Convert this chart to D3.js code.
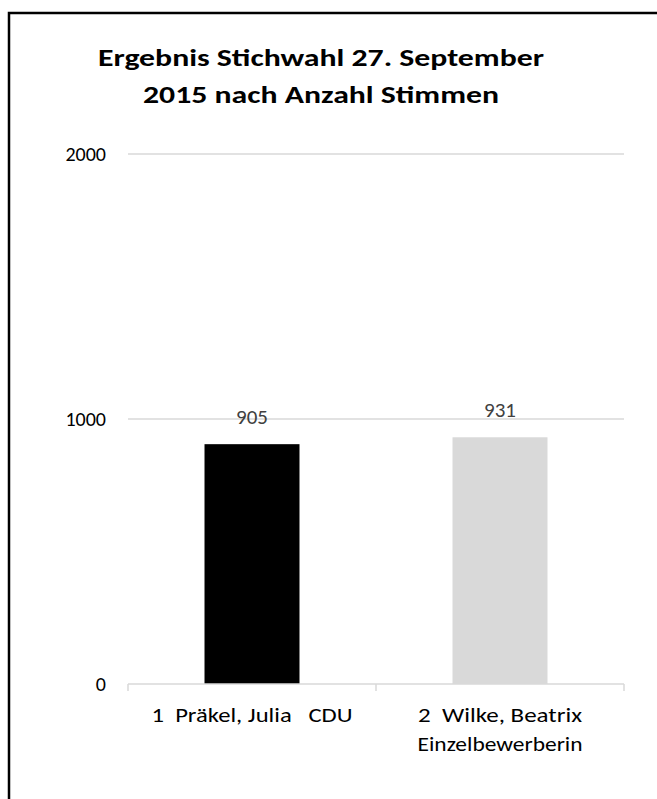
<!DOCTYPE html>
<html>
<head>
<meta charset="utf-8">
<script src="https://cdn.jsdelivr.net/npm/d3@7"></script>
<style>
  body { margin: 0; background: #fff; }
  svg text { font-family: Carlito, Calibri, Lato, "Open Sans", sans-serif; white-space: pre; }
</style>
</head>
<body>
<svg id="chart"></svg>
<script>
var categories = ["1  Präkel, Julia   CDU", "2  Wilke, Beatrix\nEinzelbewerberin"];
var votes = [905, 931];
var barColors = ["#000000", "#d9d9d9"];
var yTicks = [0, 1000, 2000];
var titleLines = ["Ergebnis Stichwahl 27. September", "2015 nach Anzahl Stimmen"];
var titleWidths = [446, 356];
var labelWidths = [[201], [164, 165]];

var W = 657, H = 799;
var margin = {top: 154, left: 128, right: 33, bottom: 115},
    width = W - margin.left - margin.right,
    height = H - margin.top - margin.bottom;

var svg = d3.select("#chart")
    .attr("width", W)
    .attr("height", H);

// outer frame (only top & left visible in the crop)
svg.append("path")
    .attr("d", "M9,799 V13 H657")
    .attr("fill", "none")
    .attr("stroke", "#000")
    .attr("stroke-width", 2.5);

svg.selectAll(".title")
    .data(titleLines)
  .enter().append("text")
    .attr("class", "title")
    .attr("x", function(d, i) { return i === 0 ? 98 : 143; })
    .attr("y", function(d, i) { return 66 + i * 37; })
    .attr("font-size", 25)
    .attr("font-weight", "bold")
    .attr("fill", "#000")
    .attr("textLength", function(d, i) { return titleWidths[i]; })
    .attr("lengthAdjust", "spacingAndGlyphs")
    .text(function(d) { return d; });

var g = svg.append("g")
    .attr("transform", "translate(" + margin.left + "," + margin.top + ")");

var x = d3.scaleBand()
    .domain(categories)
    .range([0, width])
    .paddingInner(0.617)
    .paddingOuter(0.3085);

var y = d3.scaleLinear()
    .domain([0, 2000])
    .range([height, 0]);

// gridlines
g.selectAll(".grid")
    .data(yTicks.filter(function(d) { return d > 0; }))
  .enter().append("line")
    .attr("class", "grid")
    .attr("x1", 0)
    .attr("x2", width)
    .attr("y1", function(d) { return y(d); })
    .attr("y2", function(d) { return y(d); })
    .attr("stroke", "#d9d9d9")
    .attr("stroke-width", 1.5);

// y labels
g.selectAll(".ylab")
    .data(yTicks)
  .enter().append("text")
    .attr("class", "ylab")
    .attr("x", -22)
    .attr("y", function(d) { return y(d); })
    .attr("dy", "0.36em")
    .attr("text-anchor", "end")
    .attr("font-size", 20)
    .attr("fill", "#000")
    .text(function(d) { return d; });

// bars
g.selectAll(".bar")
    .data(votes)
  .enter().append("rect")
    .attr("class", "bar")
    .attr("x", function(d, i) { return x(categories[i]); })
    .attr("width", x.bandwidth())
    .attr("y", function(d) { return y(d); })
    .attr("height", function(d) { return y(0) - y(d); })
    .attr("fill", function(d, i) { return barColors[i]; });

// value labels
g.selectAll(".val")
    .data(votes)
  .enter().append("text")
    .attr("class", "val")
    .attr("x", function(d, i) { return x(categories[i]) + x.bandwidth() / 2; })
    .attr("y", function(d) { return y(d) - 20; })
    .attr("text-anchor", "middle")
    .attr("font-size", 21)
    .attr("fill", "#404040")
    .text(function(d) { return d; });

// x axis
var xAxis = d3.axisBottom(x).tickSize(0).tickFormat("");
var axisG = g.append("g")
    .attr("transform", "translate(0," + y(0) + ")")
    .call(xAxis);
axisG.select(".domain").remove();
axisG.append("line")
    .attr("x1", 0).attr("x2", width)
    .attr("stroke", "#d9d9d9").attr("stroke-width", 1.5);
var step = x.step();
axisG.selectAll(".sep")
    .data(d3.range(categories.length + 1))
  .enter().append("line")
    .attr("class", "sep")
    .attr("x1", function(d) { return d * step; })
    .attr("x2", function(d) { return d * step; })
    .attr("y1", 0).attr("y2", 7)
    .attr("stroke", "#d9d9d9").attr("stroke-width", 1.5);

// category labels
categories.forEach(function(c, i) {
  var cx = x(c) + x.bandwidth() / 2;
  c.split("\n").forEach(function(line, j) {
    axisG.append("text")
      .attr("x", cx - labelWidths[i][j] / 2)
      .attr("y", 38 + j * 29)
      .attr("text-anchor", "start")
      .attr("font-size", 20)
      .attr("fill", "#000")
      .attr("textLength", labelWidths[i][j])
      .attr("lengthAdjust", "spacingAndGlyphs")
      .text(line);
  });
});
</script>
</body>
</html>
